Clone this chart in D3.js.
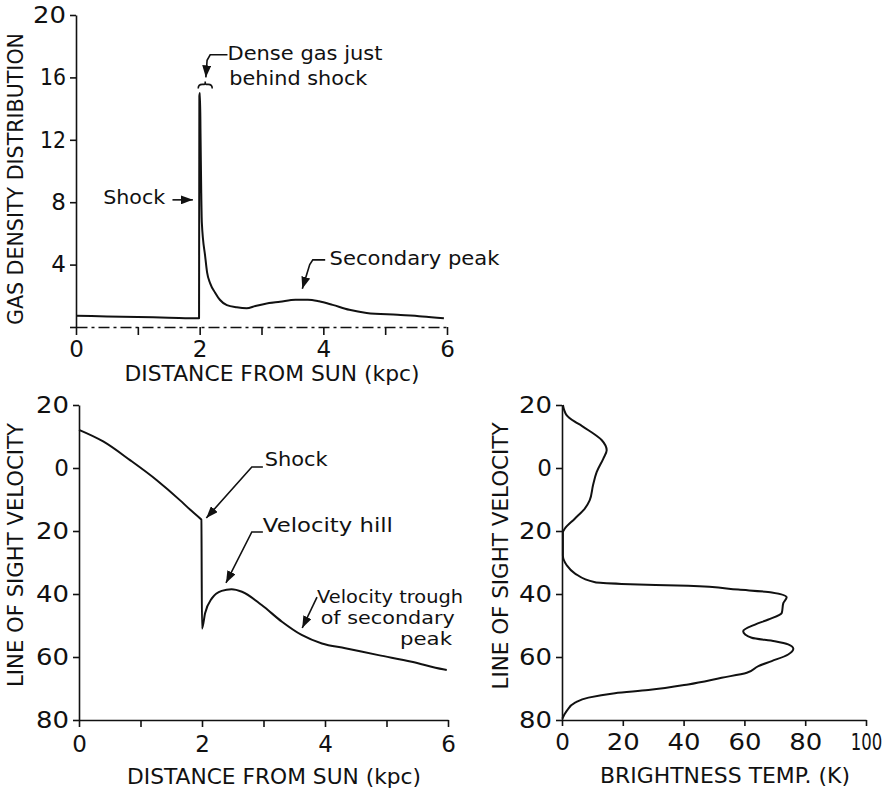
<!DOCTYPE html>
<html>
<head>
<meta charset="utf-8">
<script src="https://cdn.jsdelivr.net/npm/d3@7"></script>
<style>
body { margin: 0; background: #fff; }
svg { display: block; background: #fff; }
text { font-family: "DejaVu Sans", sans-serif; fill: #111; }
.axis path, .axis line { stroke: #111; stroke-width: 1.6; }
.axis text { font-size: 23px; font-family: "DejaVu Sans", sans-serif; fill: #111; }
.curve { fill: none; stroke: #111; stroke-width: 2; stroke-linejoin: round; }
.ptr { fill: none; stroke: #111; stroke-width: 1.6; }
.anno { font-size: 20px; }
.anno.small { font-size: 18px; }
.title { font-size: 21px; }
</style>
</head>
<body>
<svg id="chart" width="885" height="788"></svg>
<script>
// gas density along the line of sight
const densityKpc = [0, 0.5, 1.0, 1.5, 1.99, 1.995, 2.005, 2.015, 2.025, 2.035, 2.09, 2.12, 2.17, 2.25, 2.33, 2.44, 2.6, 2.76, 2.9, 3.05, 3.3, 3.55, 3.75, 3.93, 4.15, 4.42, 4.7, 5.2, 5.6, 5.95];
const densityGas = [0.72, 0.68, 0.64, 0.6, 0.56, 14.8, 15.0, 12, 8.8, 6.7, 4.5, 3.5, 2.8, 2.2, 1.73, 1.4, 1.26, 1.2, 1.35, 1.48, 1.62, 1.75, 1.75, 1.65, 1.42, 1.1, 0.9, 0.78, 0.68, 0.56];

// line of sight velocity vs distance
const velKpc = [0, 0.4, 0.83, 1.26, 1.64, 1.8, 1.98, 1.99, 2.0, 2.05, 2.16, 2.32, 2.48, 2.65, 2.97, 3.3, 3.62, 3.95, 4.33, 4.87, 5.41, 5.92, 5.98];
const velKms = [12.1, 8.35, 2.5, -3.8, -10.2, -13.1, -16.2, -16.4, -51, -46.1, -41.4, -39, -38.5, -39.3, -43.5, -48.8, -53, -55.7, -57.2, -59.4, -61.5, -63.9, -64.1];

// brightness temperature profile
const profVel = [20, 16.8, 14.7, 13.4, 12, 8.8, 5.6, 3, -1.3, -5.5, -10.3, -12.9, -16.1, -19.3, -20.4, -27.8, -30.8, -33.5, -36.3, -36.8, -37.4, -38.6, -39.5, -41, -42.9, -46, -48.1, -49.7, -51.8, -53.9, -55, -56, -57.4, -59.2, -61.3, -62.9, -65, -66.6, -68.7, -70.5, -71.5, -72.9, -74.5, -77.2, -79.6];
const profTemp = [0.3, 1.5, 4.2, 6.5, 8.7, 13.1, 14.7, 13.6, 11.4, 10.2, 9.1, 7.5, 4.2, 0.9, 0.3, 0.3, 1.5, 4.3, 10.9, 19.6, 41.5, 58, 69, 73.9, 72.8, 72.3, 67.9, 63.5, 59.6, 62.4, 70, 74.4, 76.1, 74.4, 69, 64.6, 60.8, 52.5, 41.5, 28.4, 17.4, 8.7, 4.3, 1.5, 0.1];

const kpcTicks = [0, 1, 2, 3, 4, 5, 6];
const densityTicks = [0, 4, 8, 12, 16, 20];
const velTicks = [20, 0, -20, -40, -60, -80];
const tempTicks = [0, 20, 40, 60, 80, 100];

const svg = d3.select("#chart");

svg.append("defs").append("marker")
    .attr("id", "head")
    .attr("markerUnits", "userSpaceOnUse")
    .attr("markerWidth", 13).attr("markerHeight", 9)
    .attr("refX", 12).attr("refY", 4.5)
    .attr("orient", "auto")
  .append("path")
    .attr("d", "M0,0 L12,4.5 L0,9 Z")
    .style("fill", "#111");

// scales
let xA = d3.scaleLinear().domain([0, 6]).range([76, 447]);
let yA = d3.scaleLinear().domain([0, 20]).range([327, 15]);
let xB = d3.scaleLinear().domain([0, 6]).range([79, 448]);
let yB = d3.scaleLinear().domain([20, -80]).range([405, 720]);
let xC = d3.scaleLinear().domain([0, 100]).range([562, 866]);
let yC = d3.scaleLinear().domain([20, -80]).range([405, 720]);

// hand-lettered digits: "1" is narrow, others spaced wide
function squeeze(sel) {
    sel.selectAll(".tick text").each(function() {
        let t = d3.select(this);
        let s = t.text();
        if (s == "100") {
            t.attr("transform", "scale(0.72,1)");
        } else if (s.length == 2) {
            t.attr("textLength", s[0] == "1" ? 26 : 33).attr("lengthAdjust", "spacingAndGlyphs");
        }
    });
}

function drawAnno(g, sx, sy, a) {
    g.append("path")
        .attr("class", "ptr")
        .attr("d", d3.line().x(d => sx(d[0])).y(d => sy(d[1]))(a.pts))
        .attr("marker-end", "url(#head)");
}

function drawLabel(g, sx, sy, l) {
    g.append("text")
        .attr("class", l.small ? "anno small" : "anno")
        .attr("x", sx(l.x)).attr("y", sy(l.y))
        .attr("textLength", l.w)
        .attr("lengthAdjust", "spacingAndGlyphs")
        .text(l.t);
}

function yTitle(x, cy, len, t) {
    svg.append("text")
        .attr("class", "title")
        .attr("transform", "translate(" + x + "," + cy + ") rotate(-90)")
        .style("text-anchor", "middle")
        .attr("textLength", len)
        .attr("lengthAdjust", "spacingAndGlyphs")
        .text(t);
}

function xTitle(cx, y, len, t) {
    svg.append("text")
        .attr("class", "title")
        .attr("x", cx).attr("y", y)
        .style("text-anchor", "middle")
        .attr("textLength", len)
        .attr("lengthAdjust", "spacingAndGlyphs")
        .text(t);
}

// ---- panel A: gas density
let gA = svg.append("g");
let axA = gA.append("g").attr("class", "axis")
    .attr("transform", "translate(0," + yA(0) + ")")
    .call(d3.axisBottom(xA).tickValues(kpcTicks).tickSize(8).tickSizeOuter(0).tickPadding(6)
        .tickFormat(d => d % 2 ? "" : d));
axA.select(".domain").style("stroke-dasharray", "11 4 3 4").style("stroke-width", 1.3);
squeeze(axA);

let ayA = gA.append("g").attr("class", "axis")
    .attr("transform", "translate(" + xA(0) + ",0)")
    .call(d3.axisLeft(yA).tickValues(densityTicks).tickSize(6).tickSizeOuter(0).tickPadding(4)
        .tickFormat(d => d ? d : ""));
squeeze(ayA);

gA.append("path")
    .attr("class", "curve")
    .attr("d", d3.line().x((d, i) => xA(densityKpc[i])).y(d => yA(d)).curve(d3.curveMonotoneX)(densityGas));

// brace over the spike
let bx = xA(2.09), by = yA(15.55);
gA.append("path").attr("class", "ptr")
    .attr("d", `M${bx-7},${by+4} Q${bx-7},${by} ${bx-3},${by} L${bx-1},${by} Q${bx},${by} ${bx},${by-3} Q${bx},${by} ${bx+1},${by} L${bx+3},${by} Q${bx+7},${by} ${bx+7},${by+4}`);

const annoA = [
    {pts: [[2.45, 17.45], [2.17, 17.45], [2.12, 17.1], [2.1, 16.0]]},
    {pts: [[1.56, 8.15], [1.89, 8.15]]},
    {pts: [[4.03, 4.3], [3.83, 4.3], [3.78, 4.0], [3.66, 2.45]]}
];
const labelsA = [
    {t: "Dense gas just", x: 2.45, y: 17.1, w: 155},
    {t: "behind shock", x: 2.48, y: 15.5, w: 138},
    {t: "Shock", x: 0.44, y: 7.9, w: 62},
    {t: "Secondary peak", x: 4.1, y: 3.97, w: 170}
];
annoA.forEach(a => drawAnno(gA, xA, yA, a));
labelsA.forEach(l => drawLabel(gA, xA, yA, l));

yTitle(23, 179, 292, "GAS DENSITY DISTRIBUTION");
xTitle(272, 381, 295, "DISTANCE FROM SUN (kpc)");

// ---- panel B: velocity vs distance
let gB = svg.append("g");
let axB = gB.append("g").attr("class", "axis")
    .attr("transform", "translate(0," + yB(-80) + ")")
    .call(d3.axisBottom(xB).tickValues(kpcTicks).tickSize(7).tickSizeOuter(0).tickPadding(9)
        .tickFormat(d => d % 2 ? "" : d));
squeeze(axB);
let ayB = gB.append("g").attr("class", "axis")
    .attr("transform", "translate(" + xB(0) + ",0)")
    .call(d3.axisLeft(yB).tickValues(velTicks).tickSize(6).tickSizeOuter(0).tickPadding(4)
        .tickFormat(d => Math.abs(d)));
squeeze(ayB);

gB.append("path")
    .attr("class", "curve")
    .attr("d", d3.line().x((d, i) => xB(velKpc[i])).y(d => yB(d)).curve(d3.curveMonotoneX)(velKms));

const annoB = [
    {pts: [[2.99, 0.3], [2.81, 0.3], [2.07, -15.9]]},
    {pts: [[2.99, -20.3], [2.81, -20.3], [2.39, -36.5]]},
    {pts: [[3.87, -41], [3.63, -50.8]]}
];
const labelsB = [
    {t: "Shock", x: 3.02, y: 0.6, w: 63},
    {t: "Velocity hill", x: 2.99, y: -20.3, w: 130},
    {t: "Velocity trough", x: 3.87, y: -42.9, w: 146, small: true},
    {t: "of secondary", x: 3.93, y: -49.4, w: 134, small: true},
    {t: "peak", x: 5.22, y: -56.2, w: 52, small: true}
];
annoB.forEach(a => drawAnno(gB, xB, yB, a));
labelsB.forEach(l => drawLabel(gB, xB, yB, l));

yTitle(23, 555, 264, "LINE OF SIGHT VELOCITY");
xTitle(274, 784, 294, "DISTANCE FROM SUN (kpc)");

// ---- panel C: brightness profile
let gC = svg.append("g");
let axC = gC.append("g").attr("class", "axis")
    .attr("transform", "translate(0," + yC(-80) + ")")
    .call(d3.axisBottom(xC).tickValues(tempTicks).tickSize(6).tickSizeOuter(0).tickPadding(8));
squeeze(axC);
let ayC = gC.append("g").attr("class", "axis")
    .attr("transform", "translate(" + xC(0) + ",0)")
    .call(d3.axisLeft(yC).tickValues(velTicks).tickSize(6).tickSizeOuter(0).tickPadding(4)
        .tickFormat(d => Math.abs(d)));
squeeze(ayC);

gC.append("path")
    .attr("class", "curve")
    .attr("d", d3.line().x((d, i) => xC(profTemp[i])).y((d, i) => yC(profVel[i])).curve(d3.curveMonotoneY)(profTemp));

yTitle(508, 556, 267, "LINE OF SIGHT VELOCITY");
xTitle(725, 783, 250, "BRIGHTNESS TEMP. (K)");
</script>
</body>
</html>
